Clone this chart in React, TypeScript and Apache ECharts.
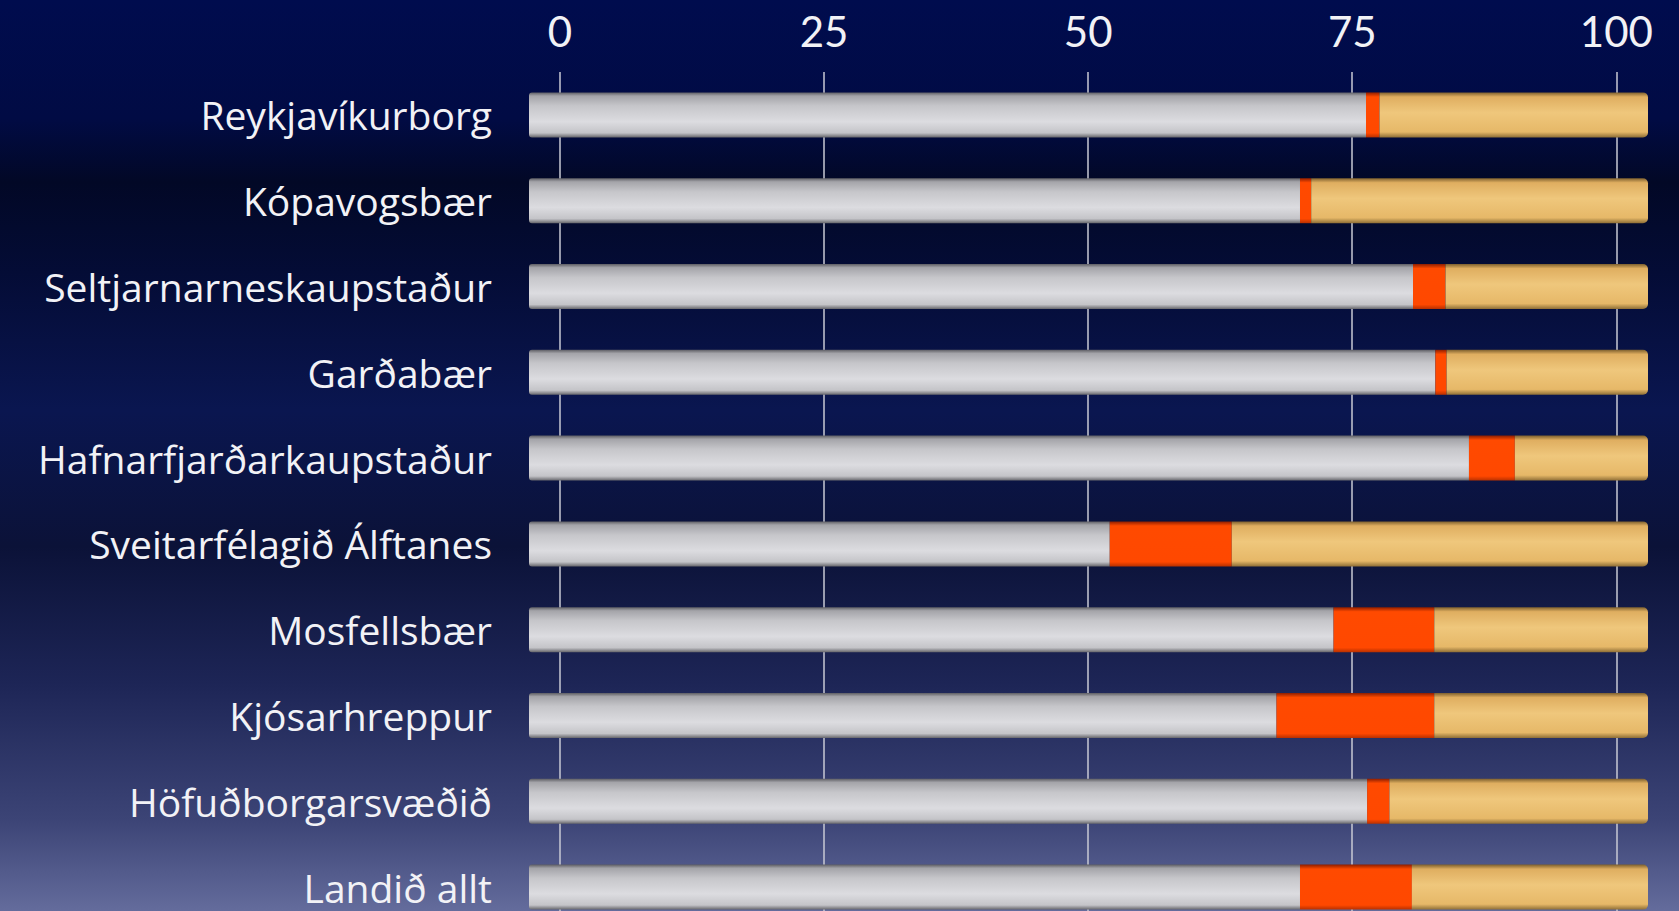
import React, { useEffect, useRef } from "react";
import * as echarts from "echarts";

const categories = [
  "Reykjavíkurborg",
  "Kópavogsbær",
  "Seltjarnarneskaupstaður",
  "Garðabær",
  "Hafnarfjarðarkaupstaður",
  "Sveitarfélagið Álftanes",
  "Mosfellsbær",
  "Kjósarhreppur",
  "Höfuðborgarsvæðið",
  "Landið allt",
];
const silverValues = [74.8, 68.9, 79.0, 81.0, 84.0, 51.9, 71.9, 66.8, 74.9, 68.9];
const orangeValues = [1.2, 1.0, 2.9, 1.0, 4.1, 10.9, 9.0, 14.1, 2.0, 10.0];
const goldValues = [24.0, 30.1, 18.1, 18.0, 11.9, 37.2, 19.1, 19.1, 23.1, 21.1];
const tickValues = [0, 25, 50, 75, 100];

const LABEL_FONT = "'Open Sans', Lato, sans-serif";
const TICK_FONT = "Lato, 'Open Sans', sans-serif";

function grad(stops: [number, string][]) {
  return new echarts.graphic.LinearGradient(
    0,
    0,
    0,
    1,
    stops.map(([offset, color]) => ({ offset, color }))
  );
}

export default function App() {
  const ref = useRef<HTMLDivElement>(null);

  useEffect(() => {
    document.body.style.margin = "0";
    if (!ref.current) return;
    const chart = echarts.init(ref.current, undefined, { renderer: "svg" });

    const silver = grad([
      [0, "#5e5e64"],
      [0.08, "#a4a4a9"],
      [0.3, "#c6c6ca"],
      [0.65, "#dcdce0"],
      [0.9, "#c4c4c8"],
      [1, "#66666b"],
    ]);
    const orange = grad([
      [0, "#8e1e00"],
      [0.1, "#ff4a00"],
      [0.9, "#ff4800"],
      [1, "#b83000"],
    ]);
    const gold = grad([
      [0, "#7e602e"],
      [0.1, "#dfae60"],
      [0.45, "#efc77c"],
      [0.88, "#e6b868"],
      [1, "#8e6e36"],
    ]);

    chart.setOption({
      animation: false,
      backgroundColor: {
        type: "linear",
        x: 0,
        y: 0,
        x2: 0,
        y2: 1,
        colorStops: [
          { offset: 0, color: "#000c4e" },
          { offset: 0.13, color: "#010b44" },
          { offset: 0.2, color: "#020826" },
          { offset: 0.3, color: "#040c36" },
          { offset: 0.45, color: "#0a1650" },
          { offset: 0.6, color: "#0b1238" },
          { offset: 0.75, color: "#1d2556" },
          { offset: 0.9, color: "#3c4476" },
          { offset: 1, color: "#646c9c" },
        ],
      },
      grid: { left: 529, right: 31, top: 72, height: 858, outerBoundsMode: "none" },
      xAxis: [
        { type: "value", min: 0, max: 100, show: false },
        {
          type: "value",
          min: -2.94,
          max: 103,
          position: "top",
          axisLine: { show: false },
          axisTick: { show: false, customValues: tickValues },
          axisLabel: {
            customValues: tickValues,
            color: "#f2f2f6",
            fontSize: 42,
            fontFamily: TICK_FONT,
            margin: 20,
          },
          splitLine: { show: true, lineStyle: { color: "#c9cad4", width: 1.5 } },
        },
      ],
      yAxis: {
        type: "category",
        data: categories,
        inverse: true,
        axisLine: { show: false },
        axisTick: { show: false },
        axisLabel: {
          color: "#f2f2f6",
          fontSize: 39,
          fontFamily: LABEL_FONT,
          margin: 37,
        },
        splitLine: { show: false },
      },
      series: [
        {
          name: "Grátt",
          type: "bar",
          stack: "total",
          xAxisIndex: 0,
          barWidth: 45,
          data: silverValues,
          itemStyle: { color: silver, borderRadius: [3, 0, 0, 3] },
        },
        {
          name: "Rautt",
          type: "bar",
          stack: "total",
          xAxisIndex: 0,
          barWidth: 45,
          data: orangeValues,
          itemStyle: { color: orange },
        },
        {
          name: "Gull",
          type: "bar",
          stack: "total",
          xAxisIndex: 0,
          barWidth: 45,
          data: goldValues,
          itemStyle: { color: gold, borderRadius: [0, 5, 5, 0] },
        },
      ],
    });

    return () => chart.dispose();
  }, []);

  return (
    <div
      ref={ref}
      style={{ position: "absolute", left: 0, top: 0, width: 1679, height: 911 }}
    />
  );
}
